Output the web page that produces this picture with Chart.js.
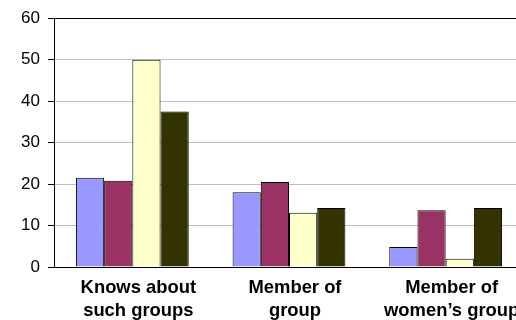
<!DOCTYPE html>
<html>
<head>
<meta charset="utf-8">
<script src="https://cdn.jsdelivr.net/npm/chart.js@4/dist/chart.umd.min.js"></script>
<style>
  html, body { margin: 0; padding: 0; background: #ffffff; overflow: hidden; }
  #wrap { position: absolute; left: 0; top: 0; width: 530px; height: 320px; }
</style>
</head>
<body>
<div id="wrap"><canvas id="chart" width="530" height="320"></canvas></div>
<script>
// Category labels (two lines each)
const categories = [
  ["Knows about", "such groups"],
  ["Member of", "group"],
  ["Member of", "women\u2019s group"]
];

// Percentages per series
const series1 = [21.5, 18.0, 4.8];
const series2 = [20.8, 20.5, 13.7];
const series3 = [50.0, 13.1, 2.0];
const series4 = [37.5, 14.2, 14.2];

// Value axis ticks
const yTicks = [0, 10, 20, 30, 40, 50, 60];

const seriesNames = ["Series 1", "Series 2", "Series 3", "Series 4"];
const seriesColors = ["#9999FF", "#993366", "#FFFFCC", "#333300"];
const seriesData = [series1, series2, series3, series4];

const FONT = "Arial, 'Liberation Sans', sans-serif";

new Chart(document.getElementById("chart"), {
  type: "bar",
  data: {
    labels: categories,
    datasets: seriesData.map((d, i) => ({
      label: seriesNames[i],
      data: d,
      backgroundColor: seriesColors[i],
      borderColor: "#000000",
      borderWidth: 1,
      categoryPercentage: 0.72,
      barPercentage: 1.0
    }))
  },
  options: {
    responsive: false,
    animation: false,
    layout: { padding: { top: 15, right: 6, left: 0, bottom: 0 } },
    plugins: {
      legend: { display: false },
      title: { display: false },
      tooltip: { enabled: false }
    },
    scales: {
      x: {
        grid: { display: false, drawTicks: false },
        border: { display: true, color: "#000000", width: 1 },
        ticks: {
          color: "#000000",
          padding: 10,
          labelOffset: 6,
          maxRotation: 0,
          autoSkip: false,
          font: { family: FONT, size: 18.4, weight: "bold", lineHeight: 1.23 }
        },
        afterFit: s => { s.height = 53; }
      },
      y: {
        min: yTicks[0],
        max: yTicks[yTicks.length - 1],
        afterBuildTicks: s => { s.ticks = yTicks.map(v => ({ value: v })); },
        grid: {
          color: c => (c.tick && (c.tick.value === 60 || c.tick.value === 0)) ? "#000000" : "#c0c0c0",
          tickColor: "#000000",
          tickLength: 6,
          lineWidth: 1
        },
        border: { display: true, color: "#000000", width: 1 },
        ticks: {
          color: "#000000",
          padding: 8,
          font: { family: FONT, size: 17 }
        },
        afterFit: s => { s.width = 54; }
      }
    }
  }
});
</script>
</body>
</html>
